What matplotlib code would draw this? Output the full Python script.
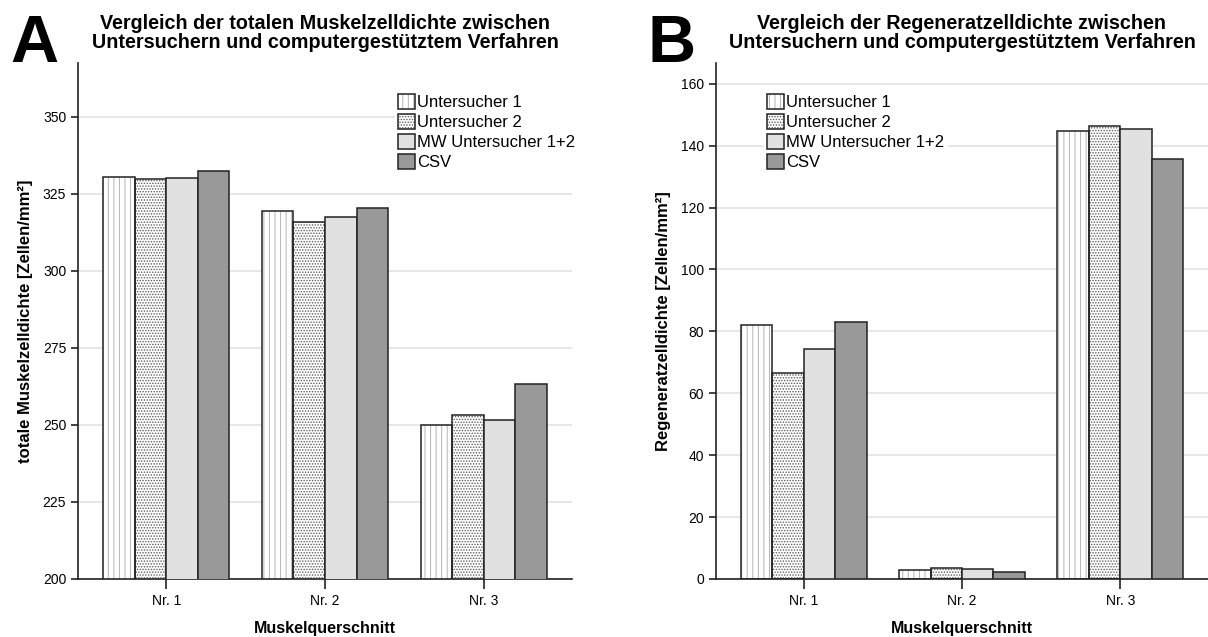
import matplotlib
matplotlib.use("Agg")
import matplotlib.pyplot as plt
from matplotlib.patches import Patch
import numpy as np

plt.rcParams['font.family'] = ['Liberation Sans', 'DejaVu Sans']
plt.rcParams['hatch.linewidth'] = 0.7

categories = ["Nr. 1", "Nr. 2", "Nr. 3"]
series = ["Untersucher 1", "Untersucher 2", "MW Untersucher 1+2", "CSV"]

# Panel A: totale Muskelzelldichte
total_u1 = [330.5, 319.5, 250.0]
total_u2 = [329.8, 316.0, 253.1]
total_mw = [330.1, 317.6, 251.6]
total_csv = [332.5, 320.4, 263.2]

# Panel B: Regeneratzelldichte
regen_u1 = [82.1, 2.9, 144.7]
regen_u2 = [66.5, 3.6, 146.3]
regen_mw = [74.4, 3.2, 145.5]
regen_csv = [83.1, 2.3, 135.7]

faces = ["white", "white", "#e1e1e1", "#999999"]
hatches = ["|||", "......", None, None]
hatch_cols = ["#b4b4b4", "#5e5e5e", None, None]


def draw_panel(ax, data, ylim, yticks, ylabel, title):
    x = np.arange(len(categories))
    w = 0.199
    for i, vals in enumerate(data):
        pos = x + (i - 1.5) * w
        if hatches[i]:
            ax.bar(pos, vals, w, color=faces[i], hatch=hatches[i],
                   edgecolor=hatch_cols[i], linewidth=0, zorder=2)
            ax.bar(pos, vals, w, fill=False, edgecolor="#222222",
                   linewidth=1.1, zorder=3)
        else:
            ax.bar(pos, vals, w, color=faces[i], edgecolor="#222222",
                   linewidth=1.1, zorder=3)
    ax.set_xlim(-0.555, 2.555)
    ax.set_ylim(*ylim)
    ax.set_yticks(yticks)
    ax.set_xticks(x)
    ax.set_xticklabels(categories)
    ax.yaxis.grid(True, color="#e3e3e3", linewidth=1.2, zorder=0)
    ax.set_axisbelow(True)
    for s in ["top", "right"]:
        ax.spines[s].set_visible(False)
    for s in ["left", "bottom"]:
        ax.spines[s].set_color("#222222")
        ax.spines[s].set_linewidth(1.2)
    ax.tick_params(axis="y", length=5, width=1.2, labelsize=10, color="#222222")
    ax.tick_params(axis="x", length=7, width=1.2, labelsize=10, color="#222222")
    ax.set_ylabel(ylabel, fontsize=12, fontweight="bold", labelpad=7)
    ax.set_xlabel("Muskelquerschnitt", fontsize=11.5, fontweight="bold", labelpad=10)
    ax.set_title(title, fontsize=14.2, fontweight="bold", pad=11, linespacing=0.95)

    handles = []
    for i in range(4):
        if hatches[i]:
            h = (Patch(facecolor=faces[i], hatch=hatches[i], edgecolor=hatch_cols[i], linewidth=0),
                 Patch(fill=False, edgecolor="#222222", linewidth=1.1))
        else:
            h = Patch(facecolor=faces[i], edgecolor="#222222", linewidth=1.1)
        handles.append(h)
    return handles


fig = plt.figure(figsize=(12.08, 6.37), dpi=100)
ax1 = fig.add_axes([0.0646, 0.0911, 0.4089, 0.81])
ax2 = fig.add_axes([0.5927, 0.0911, 0.4073, 0.81])

h1 = draw_panel(ax1, [total_u1, total_u2, total_mw, total_csv], (200, 367.5),
                [200, 225, 250, 275, 300, 325, 350],
                "totale Muskelzelldichte [Zellen/mm²]",
                "Vergleich der totalen Muskelzelldichte zwischen\nUntersuchern und computergestütztem Verfahren")
h2 = draw_panel(ax2, [regen_u1, regen_u2, regen_mw, regen_csv], (0, 166.7),
                [0, 20, 40, 60, 80, 100, 120, 140, 160],
                "Regeneratzelldichte [Zellen/mm²]",
                "Vergleich der Regeneratzelldichte zwischen\nUntersuchern und computergestütztem Verfahren")

fig.text(10 / 1208, 1 - 62 / 637, "A", fontsize=48, fontweight="bold", va="baseline", ha="left")
fig.text(648 / 1208, 1 - 62 / 637, "B", fontsize=48, fontweight="bold", va="baseline", ha="left")

for ax, h, anchor in [(ax1, h1, (0.625, 0.962)), (ax2, h2, (0.08, 0.962))]:
    leg = ax.legend(h, series, loc="upper left", bbox_to_anchor=anchor,
                    frameon=True, fontsize=12, handlelength=1.0, handleheight=1.0,
                    handletextpad=0.12, labelspacing=0.22, borderpad=0.2,
                    fancybox=False)
    leg.get_frame().set_edgecolor("white")
    leg.get_frame().set_facecolor("white")
    leg.get_frame().set_alpha(1)

fig.savefig("out.png", dpi=100)
